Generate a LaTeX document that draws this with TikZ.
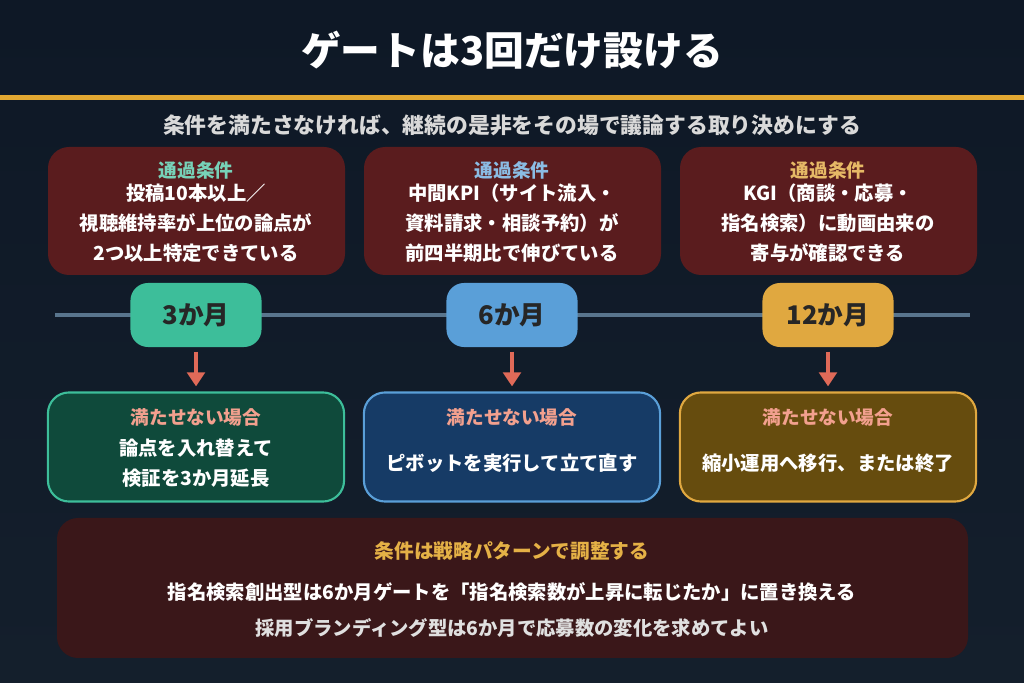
\documentclass[tikz,border=0pt]{standalone}
\usepackage{fontspec}
\setmainfont{Noto Sans CJK JP}
\usetikzlibrary{arrows.meta}
\definecolor{bgtop}{HTML}{0E1826}
\definecolor{bgbot}{HTML}{141F2C}
\definecolor{gold}{HTML}{E2A832}
\definecolor{cardred}{HTML}{5A1C1E}
\definecolor{notered}{HTML}{3A1719}
\definecolor{grn}{HTML}{3DBE9A}
\definecolor{blu}{HTML}{5A9FD8}
\definecolor{yel}{HTML}{E0A840}
\definecolor{grnbg}{HTML}{0F4A3B}
\definecolor{blubg}{HTML}{163B66}
\definecolor{yelbg}{HTML}{664C0E}
\definecolor{arr}{HTML}{E06A58}
\definecolor{salmon}{HTML}{F2A08E}
\newcommand{\fs}[1]{\fontsize{#1}{8.6}\selectfont}
\begin{document}
\begin{tikzpicture}[x=0.01cm, y=-0.01cm,
    cond/.style = {fill=cardred, rounded corners=6pt},
    mile/.style = {rounded corners=5pt, minimum width=1.31cm, minimum height=0.64cm, font=\fs{7.3}\bfseries, text=black!85},
    fail/.style = {rounded corners=6pt, line width=0.6pt, minimum width=2.96cm, minimum height=1.09cm},
    body/.style = {text=white, font=\fs{5.5}\bfseries, align=center}
  ]
  % background
  \shade[top color=bgtop, bottom color=bgbot] (0,0) rectangle (1024,683);
  \useasboundingbox (0,0) rectangle (1024,683);
  \fill[gold] (0,95) rectangle (1024,100);
  \node[text=white, font=\fs{11.3}\bfseries] (title) at (512,50) {ゲートは3回だけ設ける};
  \node[text=black!15, font=\fs{6.2}\bfseries] (sub) at (512,125) {条件を満たさなければ、継続の是非をその場で議論する取り決めにする};

  % condition cards
  \foreach \x in {48, 364, 680}
    \fill[cond] (\x,147) rectangle ++(297,128);
  \node[text=grn!70!white, font=\fs{5.3}\bfseries] (la) at (196,170) {通過条件};
  \node[body] (ta) at (196,223) {投稿10本以上／\\視聴維持率が上位の論点が\\2つ以上特定できている};
  \node[text=blu!70!white, font=\fs{5.3}\bfseries] (lb) at (512,170) {通過条件};
  \node[body] (tb) at (512,223) {中間KPI（サイト流入・\\資料請求・相談予約）が\\前四半期比で伸びている};
  \node[text=yel!80!white, font=\fs{5.3}\bfseries] (lc) at (828,170) {通過条件};
  \node[body] (tc) at (828,223) {KGI（商談・応募・\\指名検索）に動画由来の\\寄与が確認できる};

  % timeline
  \coordinate (t0) at (55,315);
  \coordinate (t1) at (970,315);
  \draw[line width=1.2pt, color=blu!40!bgbot!80!white] (t0) -- (t1);
  \node[mile, fill=grn] (m3) at (196,315) {3か月};
  \node[mile, fill=blu] (m6) at (512,315) {6か月};
  \node[mile, fill=yel] (m12) at (828,315) {12か月};

  % failure cards
  \node[fail, draw=grn, fill=grnbg] (fa) at (196,447) {};
  \node[fail, draw=blu, fill=blubg] (fb) at (512,447) {};
  \node[fail, draw=yel, fill=yelbg] (fc) at (828,447) {};
  \foreach \n in {fa, fb, fc}
    \node[text=salmon, font=\fs{5.3}\bfseries] at ([yshift=-0.26cm]\n.north) {満たせない場合};
  \node[body] at (196,463) {論点を入れ替えて\\検証を3か月延長};
  \node[body] at (512,463) {ピボットを実行して立て直す};
  \node[body] at (828,463) {縮小運用へ移行、または終了};

  \foreach \m/\f in {m3/fa, m6/fb, m12/fc}
    \draw[arr, line width=1pt, -{Triangle[length=4pt, width=5pt]}] ([yshift=-0.04cm]\m.south) -- ([yshift=0.05cm]\f.north);

  % note
  \fill[notered, rounded corners=6pt] (57,518) rectangle (968,658);
  \node[text=gold!90!white, font=\fs{5.6}\bfseries] (nt) at (512,551) {条件は戦略パターンで調整する};
  \node[body] (n1) at (512,592) {指名検索創出型は6か月ゲートを「指名検索数が上昇に転じたか」に置き換える};
  \node[body, text=white!88!black] (n2) at (512,628) {採用ブランディング型は6か月で応募数の変化を求めてよい};
\end{tikzpicture}
\end{document}
